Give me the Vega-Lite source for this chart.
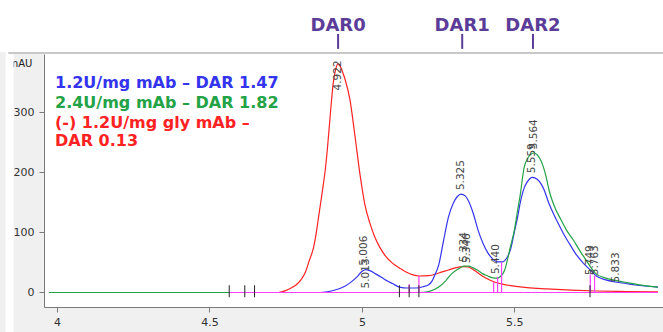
{
  "$schema": "https://vega.github.io/schema/vega-lite/v6.json",
  "width": 619,
  "height": 253,
  "autosize": {"type": "none"},
  "padding": {"left": 44, "top": 54, "right": 0, "bottom": 25},
  "background": "#f0f0f0",
  "view": {"fill": "white", "stroke": null},
  "config": {
    "font": "DejaVu Sans",
    "axis": {"labelOverlap": false, "labelFlush": false, "grid": false, "tickColor": "#7a7a7a", "domainColor": "#7a7a7a", "labelColor": "#333333", "labelFontSize": 11},
    "axisX": {"tickSize": 5, "labelPadding": 4},
    "axisY": {"tickSize": 5, "labelPadding": 5}
  },
  "datasets": {
    "trace": [
      {"s":"r","t":3.974,"v":0},{"s":"r","t":4.6,"v":0},{"s":"r","t":4.726,"v":0},{"s":"r","t":4.75,"v":3},{"s":"r","t":4.768,"v":7.5},{"s":"r","t":4.785,"v":13},{"s":"r","t":4.8,"v":21},{"s":"r","t":4.815,"v":34},{"s":"r","t":4.826,"v":51},{"s":"r","t":4.842,"v":76},{"s":"r","t":4.85,"v":98},{"s":"r","t":4.858,"v":126},{"s":"r","t":4.865,"v":150},{"s":"r","t":4.871,"v":171},{"s":"r","t":4.88,"v":205},{"s":"r","t":4.887,"v":240},{"s":"r","t":4.897,"v":300},{"s":"r","t":4.906,"v":349},{"s":"r","t":4.914,"v":372},{"s":"r","t":4.922,"v":381},{"s":"r","t":4.93,"v":376},{"s":"r","t":4.937,"v":367},{"s":"r","t":4.945,"v":355},{"s":"r","t":4.961,"v":321},{"s":"r","t":4.977,"v":262},{"s":"r","t":4.994,"v":196},{"s":"r","t":5.01,"v":146},{"s":"r","t":5.026,"v":116},{"s":"r","t":5.042,"v":93},{"s":"r","t":5.058,"v":76},{"s":"r","t":5.077,"v":61},{"s":"r","t":5.1,"v":49},{"s":"r","t":5.123,"v":41},{"s":"r","t":5.145,"v":34},{"s":"r","t":5.187,"v":27.5},{"s":"r","t":5.219,"v":28},{"s":"r","t":5.252,"v":32.5},{"s":"r","t":5.284,"v":37.5},{"s":"r","t":5.31,"v":41.5},{"s":"r","t":5.332,"v":43},{"s":"r","t":5.348,"v":42.5},{"s":"r","t":5.365,"v":38},{"s":"r","t":5.381,"v":32.5},{"s":"r","t":5.406,"v":24},{"s":"r","t":5.435,"v":17.5},{"s":"r","t":5.461,"v":14},{"s":"r","t":5.487,"v":11.5},{"s":"r","t":5.542,"v":8},{"s":"r","t":5.606,"v":6},{"s":"r","t":5.687,"v":4},{"s":"r","t":5.768,"v":2.5},{"s":"r","t":5.865,"v":1.5},{"s":"r","t":5.971,"v":1},
      {"s":"b","t":3.974,"v":0},{"s":"b","t":4.865,"v":0},{"s":"b","t":4.9,"v":2.5},{"s":"b","t":4.939,"v":9},{"s":"b","t":4.961,"v":16},{"s":"b","t":4.984,"v":26},{"s":"b","t":4.998,"v":34},{"s":"b","t":5.012,"v":38},{"s":"b","t":5.026,"v":36.5},{"s":"b","t":5.045,"v":31},{"s":"b","t":5.068,"v":24},{"s":"b","t":5.084,"v":19},{"s":"b","t":5.1,"v":15},{"s":"b","t":5.123,"v":9},{"s":"b","t":5.15,"v":7.5},{"s":"b","t":5.177,"v":7.5},{"s":"b","t":5.2,"v":9.5},{"s":"b","t":5.219,"v":13},{"s":"b","t":5.23,"v":19},{"s":"b","t":5.239,"v":29},{"s":"b","t":5.252,"v":46},{"s":"b","t":5.268,"v":87},{"s":"b","t":5.284,"v":126},{"s":"b","t":5.3,"v":149},{"s":"b","t":5.313,"v":160},{"s":"b","t":5.325,"v":164},{"s":"b","t":5.339,"v":161},{"s":"b","t":5.348,"v":154},{"s":"b","t":5.365,"v":132},{"s":"b","t":5.381,"v":104},{"s":"b","t":5.397,"v":82},{"s":"b","t":5.413,"v":66},{"s":"b","t":5.429,"v":56},{"s":"b","t":5.445,"v":51},{"s":"b","t":5.461,"v":51},{"s":"b","t":5.477,"v":59},{"s":"b","t":5.487,"v":71},{"s":"b","t":5.5,"v":101},{"s":"b","t":5.51,"v":124},{"s":"b","t":5.519,"v":149},{"s":"b","t":5.532,"v":174},{"s":"b","t":5.542,"v":184},{"s":"b","t":5.559,"v":192},{"s":"b","t":5.574,"v":189},{"s":"b","t":5.59,"v":179},{"s":"b","t":5.6,"v":168},{"s":"b","t":5.61,"v":153},{"s":"b","t":5.623,"v":137},{"s":"b","t":5.639,"v":120},{"s":"b","t":5.661,"v":98},{"s":"b","t":5.681,"v":81},{"s":"b","t":5.703,"v":63},{"s":"b","t":5.726,"v":49},{"s":"b","t":5.752,"v":36},{"s":"b","t":5.768,"v":28},{"s":"b","t":5.8,"v":21},{"s":"b","t":5.832,"v":17.5},{"s":"b","t":5.865,"v":15},{"s":"b","t":5.897,"v":12.5},{"s":"b","t":5.971,"v":9},
      {"s":"g","t":3.974,"v":0},{"s":"g","t":5.187,"v":0},{"s":"g","t":5.219,"v":1.5},{"s":"g","t":5.252,"v":9},{"s":"g","t":5.274,"v":19},{"s":"g","t":5.294,"v":31},{"s":"g","t":5.316,"v":39},{"s":"g","t":5.334,"v":44},{"s":"g","t":5.35,"v":44},{"s":"g","t":5.365,"v":41},{"s":"g","t":5.38,"v":37},{"s":"g","t":5.397,"v":31},{"s":"g","t":5.413,"v":27.5},{"s":"g","t":5.429,"v":24.5},{"s":"g","t":5.445,"v":24},{"s":"g","t":5.455,"v":27},{"s":"g","t":5.468,"v":37},{"s":"g","t":5.477,"v":54},{"s":"g","t":5.487,"v":76},{"s":"g","t":5.5,"v":104},{"s":"g","t":5.51,"v":135},{"s":"g","t":5.519,"v":162},{"s":"g","t":5.532,"v":208},{"s":"g","t":5.545,"v":225},{"s":"g","t":5.555,"v":231},{"s":"g","t":5.565,"v":232.5},{"s":"g","t":5.574,"v":230},{"s":"g","t":5.584,"v":223},{"s":"g","t":5.594,"v":211},{"s":"g","t":5.604,"v":193},{"s":"g","t":5.614,"v":170},{"s":"g","t":5.625,"v":152},{"s":"g","t":5.636,"v":138},{"s":"g","t":5.648,"v":126},{"s":"g","t":5.671,"v":104},{"s":"g","t":5.694,"v":87},{"s":"g","t":5.713,"v":71},{"s":"g","t":5.735,"v":54},{"s":"g","t":5.752,"v":41},{"s":"g","t":5.768,"v":31},{"s":"g","t":5.8,"v":24},{"s":"g","t":5.823,"v":21},{"s":"g","t":5.865,"v":17},{"s":"g","t":5.897,"v":14},{"s":"g","t":5.971,"v":9}
    ],
    "peaks": [
      {"t":4.922,"h":381,"label":"4.922"},
      {"t":5.006,"h":38,"label":"5.006"},
      {"t":5.013,"h":0,"label":"5.013"},
      {"t":5.325,"h":164,"label":"5.325"},
      {"t":5.334,"h":44,"label":"5.334"},
      {"t":5.346,"h":42,"label":"5.346"},
      {"t":5.44,"h":24,"label":"5.440"},
      {"t":5.559,"h":192,"label":"5.559"},
      {"t":5.564,"h":232,"label":"5.564"},
      {"t":5.749,"h":22,"label":"5.749"},
      {"t":5.763,"h":22,"label":"5.763"},
      {"t":5.833,"h":10,"label":"5.833"}
    ],
    "bounds": [
      {"t":5.155,"top":14},{"t":5.187,"top":28},{"t":5.432,"top":18},{"t":5.445,"top":26},{"t":5.458,"top":50},{"t":5.749,"top":30},{"t":5.763,"top":28}
    ],
    "baseline": [{"t":4.565,"v":0},{"t":5.971,"v":0}],
    "events": [{"t":4.565},{"t":4.616},{"t":4.648},{"t":5.123},{"t":5.155},{"t":5.187},{"t":5.748}],
    "dar": [{"t":4.922,"label":"DAR0"},{"t":5.329,"label":"DAR1"},{"t":5.561,"label":"DAR2"}],
    "one": [{"k":1}]
  },
  "layer": [
    {
      "data": {"name": "one"},
      "mark": {"type": "tick", "orient": "horizontal", "color": "white", "opacity": 1, "size": 720, "thickness": 52},
      "encoding": {
        "x": {"datum": 4.9, "type": "quantitative"},
        "y": {"datum": 444, "type": "quantitative"}
      }
    },
    {
      "data": {"name": "one"},
      "mark": {"type": "tick", "orient": "vertical", "color": "white", "opacity": 1, "size": 290, "thickness": 8},
      "encoding": {
        "x": {"datum": 3.845, "type": "quantitative"},
        "y": {"datum": 167.5, "type": "quantitative"}
      }
    },
    {
      "data": {"name": "one"},
      "mark": {"type": "tick", "orient": "horizontal", "color": "#c8c8c8", "opacity": 1, "size": 655, "thickness": 2},
      "encoding": {
        "x": {"datum": 4.9145, "type": "quantitative"},
        "y": {"datum": 399.2, "type": "quantitative"}
      }
    },
    {
      "data": {"name": "trace"},
      "mark": {"type": "line", "strokeWidth": 1.2, "interpolate": "monotone"},
      "encoding": {
        "x": {
          "field": "t", "type": "quantitative",
          "scale": {"domain": [3.974, 5.971], "nice": false, "zero": false},
          "axis": {
            "title": null,
            "values": [4, 4.5, 5, 5.5],
            "format": ".1~f"
          }
        },
        "y": {
          "field": "v", "type": "quantitative",
          "scale": {"domain": [-24.2, 397.5], "nice": false, "zero": false},
          "axis": {
            "values": [0, 50, 100, 150, 200, 250, 300, 350],
            "format": "d",
            "title": "mAU", "titleAngle": 0, "titleX": -36, "titleY": 9,
            "titleAlign": "left", "titleBaseline": "middle",
            "titleFontWeight": "normal", "titleFontSize": 10, "titleColor": "#222222"
          }
        },
        "color": {
          "field": "s", "type": "nominal",
          "scale": {"domain": ["b", "g", "r"], "range": ["#3434ee", "#23a346", "#ff2222"]},
          "legend": {
            "title": null, "orient": "none", "legendX": -5, "legendY": 21,
            "padding": 0,
            "symbolOpacity": 0, "symbolSize": 0, "symbolStrokeWidth": 0,
            "labelOffset": 0, "labelFont": "DejaVu Sans", "labelFontWeight": "bold",
            "labelFontSize": 16, "labelLimit": 500, "rowPadding": 4,
            "labelColor": {"expr": "datum.value == 'b' ? '#3434ee' : datum.value == 'g' ? '#23a346' : '#ff2222'"},
            "labelExpr": "datum.label == 'b' ? '1.2U/mg mAb – DAR 1.47' : datum.label == 'g' ? '2.4U/mg mAb – DAR 1.82' : ['(-) 1.2U/mg gly mAb –', 'DAR 0.13']"
          }
        }
      }
    },
    {
      "data": {"name": "baseline"},
      "mark": {"type": "line", "color": "#ff3cff", "strokeWidth": 1.2},
      "encoding": {
        "x": {"field": "t", "type": "quantitative"},
        "y": {"field": "v", "type": "quantitative"}
      }
    },
    {
      "data": {"name": "bounds"},
      "mark": {"type": "bar", "orient": "vertical", "color": "#ff3cff", "width": 1.2},
      "encoding": {
        "x": {"field": "t", "type": "quantitative"},
        "y": {"field": "top", "type": "quantitative", "stack": null}
      }
    },
    {
      "data": {"name": "events"},
      "mark": {"type": "tick", "orient": "vertical", "color": "#222222", "opacity": 1, "size": 12, "thickness": 1},
      "encoding": {
        "x": {"field": "t", "type": "quantitative"},
        "y": {"datum": 2, "type": "quantitative"}
      }
    },
    {
      "data": {"name": "peaks"},
      "transform": [{"calculate": "min(datum.h, 330)", "as": "ly"}],
      "mark": {"type": "text", "angle": 270, "align": "left", "baseline": "middle", "dx": 4, "fontSize": 10.5, "color": "#444444"},
      "encoding": {
        "x": {"field": "t", "type": "quantitative"},
        "y": {"field": "ly", "type": "quantitative"},
        "text": {"field": "label", "type": "nominal"}
      }
    },
    {
      "data": {"name": "dar"},
      "mark": {"type": "text", "fontSize": 18, "fontWeight": "bold", "color": "#5b3c98", "baseline": "middle", "align": "center"},
      "encoding": {
        "x": {"field": "t", "type": "quantitative"},
        "y": {"datum": 444, "type": "quantitative"},
        "text": {"field": "label", "type": "nominal"}
      }
    },
    {
      "data": {"name": "dar"},
      "mark": {"type": "tick", "orient": "vertical", "color": "#5b3c98", "opacity": 1, "size": 15, "thickness": 2},
      "encoding": {
        "x": {"field": "t", "type": "quantitative"},
        "y": {"datum": 418.5, "type": "quantitative"}
      }
    }
  ]
}
